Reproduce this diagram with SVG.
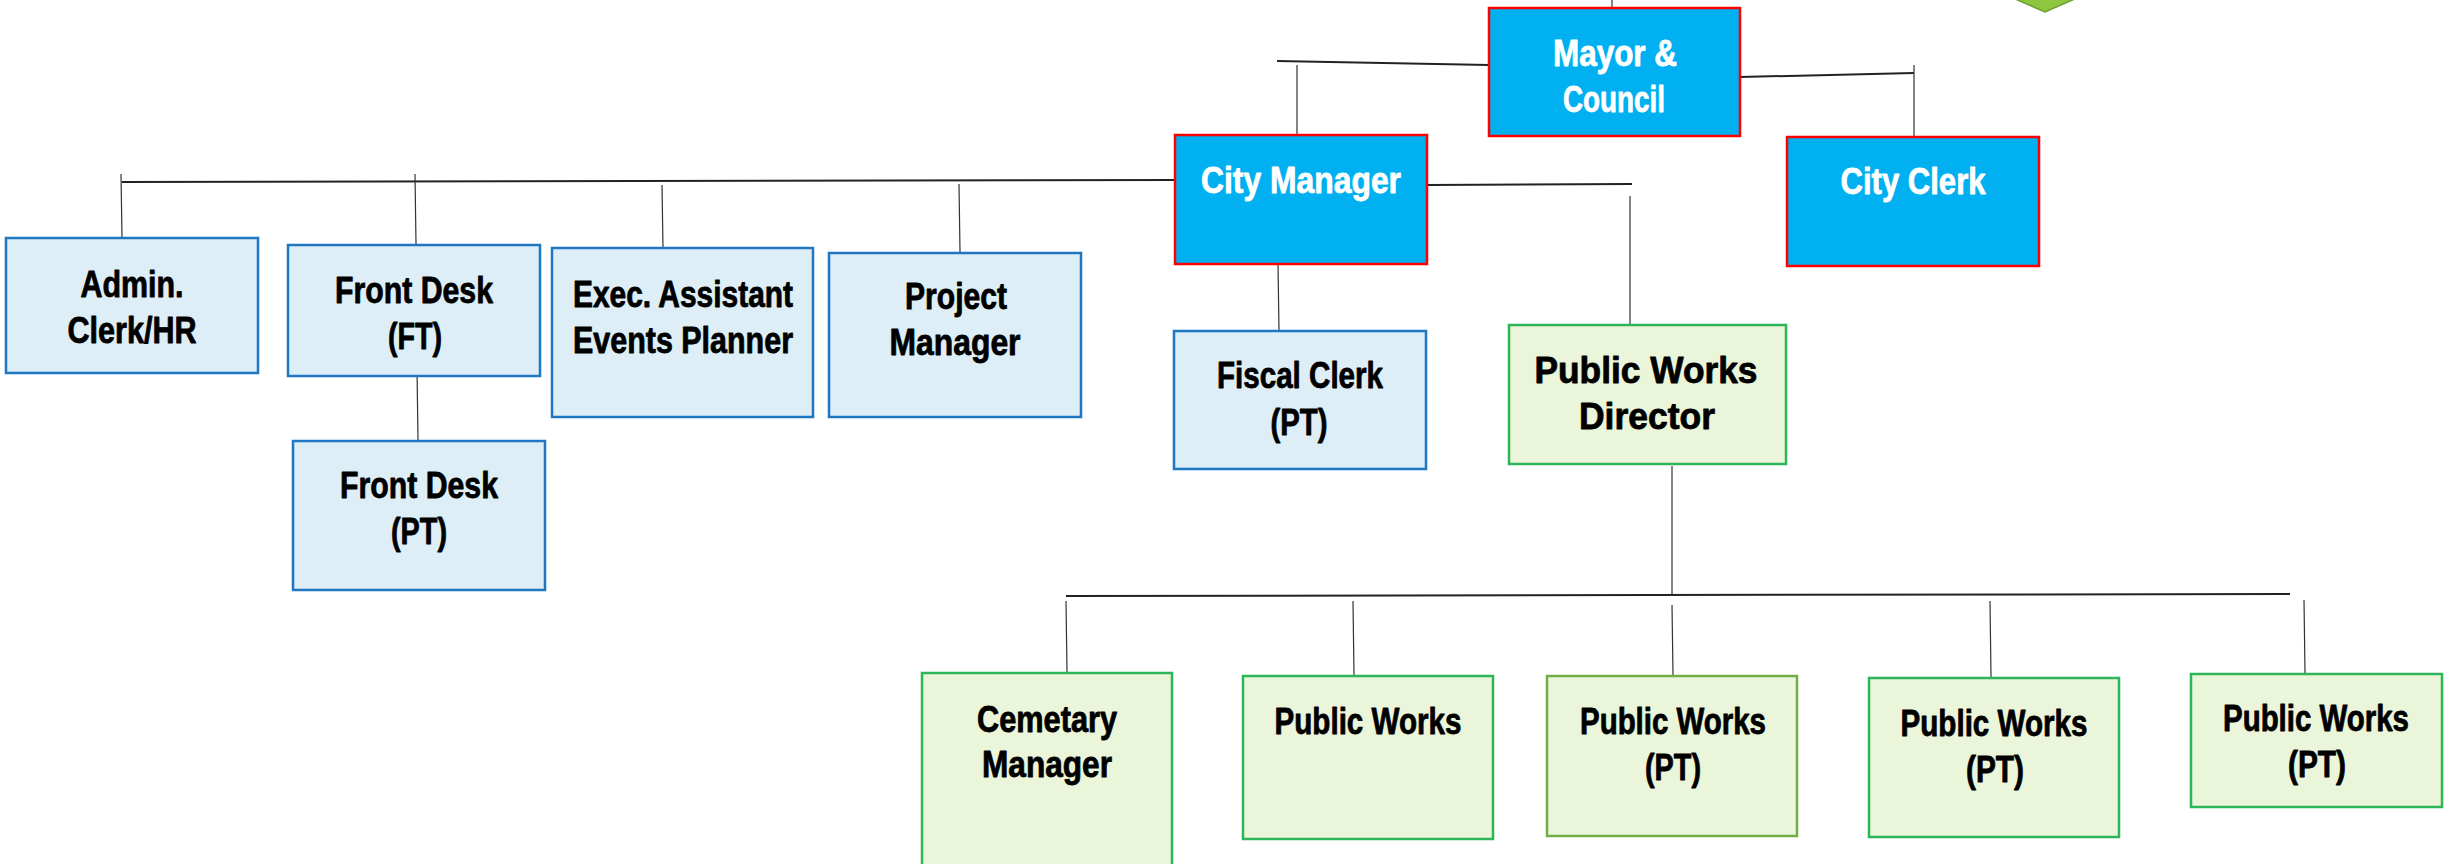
<svg xmlns="http://www.w3.org/2000/svg" width="2446" height="864" viewBox="0 0 2446 864">
  <style>
    .lbl { font-family: "Liberation Sans", Arial, sans-serif; font-weight: bold; font-size: 36px; text-anchor: middle; stroke-width: 0.8; stroke-linejoin: round; }
    .dark { fill: #000000; stroke: #000000; }
    .light { fill: #FFFFFF; stroke: #FFFFFF; }
    .exec { fill: #00B0F0; stroke: #FF0000; stroke-width: 2.5; }
    .staff { fill: #DDEEF6; stroke: #1F77C4; stroke-width: 2.5; }
    .pw { fill: #EBF5D9; stroke: #2DB55A; stroke-width: 2.5; }
    .pw-alt { fill: #EBF5D9; stroke: #72AD47; stroke-width: 2.5; }
    .bus { stroke: #222222; stroke-width: 2; fill: none; }
    .drop { stroke: #333333; stroke-width: 1.2; fill: none; }
  </style>

  <rect width="2446" height="864" fill="#FFFFFF"/>

  <!-- marker shape at the top edge -->
  <polygon points="2013,-2 2077,-2 2045,12" fill="#8DC63F" stroke="#6E9E2E" stroke-width="1.5"/>

  <g id="connectors">
    <line class="drop" x1="1612" y1="0" x2="1612" y2="8"/>
    <!-- Mayor & Council to City Manager -->
    <line class="bus" x1="1489" y1="65" x2="1277" y2="61"/>
    <line class="drop" x1="1297" y1="65" x2="1297" y2="134"/>
    <!-- Mayor & Council to City Clerk -->
    <line class="bus" x1="1740" y1="77" x2="1914" y2="73"/>
    <line class="drop" x1="1914" y1="65" x2="1914" y2="136"/>
    <!-- City Manager to staff row -->
    <line class="bus" x1="122" y1="182" x2="1174" y2="180"/>
    <line class="drop" x1="121" y1="174" x2="122" y2="238"/>
    <line class="drop" x1="415" y1="174" x2="416" y2="244"/>
    <line class="drop" x1="662" y1="185" x2="663" y2="249"/>
    <line class="drop" x1="959" y1="184" x2="960" y2="252"/>
    <line class="drop" x1="417" y1="369" x2="418" y2="440"/>
    <!-- City Manager to Fiscal Clerk -->
    <line class="drop" x1="1278" y1="264" x2="1279" y2="331"/>
    <!-- City Manager to Public Works Director -->
    <line class="bus" x1="1427" y1="185" x2="1632" y2="184"/>
    <line class="drop" x1="1630" y1="196" x2="1630" y2="325"/>
    <!-- Public Works Director to crews -->
    <line class="drop" x1="1672" y1="466" x2="1672" y2="596"/>
    <line class="bus" x1="1066" y1="596" x2="2290" y2="594"/>
    <line class="drop" x1="1066" y1="601" x2="1067" y2="672"/>
    <line class="drop" x1="1353" y1="601" x2="1354" y2="675"/>
    <line class="drop" x1="1672" y1="605" x2="1673" y2="675"/>
    <line class="drop" x1="1990" y1="601" x2="1991" y2="677"/>
    <line class="drop" x1="2304" y1="600" x2="2305" y2="673"/>
  </g>

  <g id="mayor-council">
    <rect class="exec" x="1489" y="8" width="251" height="128"/>
    <text class="lbl light" x="1615" y="66" textLength="124" lengthAdjust="spacingAndGlyphs">Mayor &amp;</text>
    <text class="lbl light" x="1614" y="112" textLength="102" lengthAdjust="spacingAndGlyphs">Council</text>
  </g>

  <g id="city-manager">
    <rect class="exec" x="1175" y="135" width="252" height="129"/>
    <text class="lbl light" x="1301" y="193" textLength="200" lengthAdjust="spacingAndGlyphs">City Manager</text>
  </g>

  <g id="city-clerk">
    <rect class="exec" x="1787" y="137" width="252" height="129"/>
    <text class="lbl light" x="1913" y="194" textLength="145" lengthAdjust="spacingAndGlyphs">City Clerk</text>
  </g>

  <g id="admin-clerk">
    <rect class="staff" x="6" y="238" width="252" height="135"/>
    <text class="lbl dark" x="132" y="297" textLength="103" lengthAdjust="spacingAndGlyphs">Admin.</text>
    <text class="lbl dark" x="132" y="343" textLength="129" lengthAdjust="spacingAndGlyphs">Clerk/HR</text>
  </g>

  <g id="front-desk-ft">
    <rect class="staff" x="288" y="245" width="252" height="131"/>
    <text class="lbl dark" x="414" y="303" textLength="158" lengthAdjust="spacingAndGlyphs">Front Desk</text>
    <text class="lbl dark" x="415" y="349" textLength="54" lengthAdjust="spacingAndGlyphs">(FT)</text>
  </g>

  <g id="front-desk-pt">
    <rect class="staff" x="293" y="441" width="252" height="149"/>
    <text class="lbl dark" x="419" y="498" textLength="158" lengthAdjust="spacingAndGlyphs">Front Desk</text>
    <text class="lbl dark" x="419" y="544" textLength="56" lengthAdjust="spacingAndGlyphs">(PT)</text>
  </g>

  <g id="exec-assistant">
    <rect class="staff" x="552" y="248" width="261" height="169"/>
    <text class="lbl dark" x="683" y="307" textLength="220" lengthAdjust="spacingAndGlyphs">Exec. Assistant</text>
    <text class="lbl dark" x="683" y="353" textLength="220" lengthAdjust="spacingAndGlyphs">Events Planner</text>
  </g>

  <g id="project-manager">
    <rect class="staff" x="829" y="253" width="252" height="164"/>
    <text class="lbl dark" x="956" y="309" textLength="102" lengthAdjust="spacingAndGlyphs">Project</text>
    <text class="lbl dark" x="955" y="355" textLength="131" lengthAdjust="spacingAndGlyphs">Manager</text>
  </g>

  <g id="fiscal-clerk">
    <rect class="staff" x="1174" y="331" width="252" height="138"/>
    <text class="lbl dark" x="1300" y="388" textLength="166" lengthAdjust="spacingAndGlyphs">Fiscal Clerk</text>
    <text class="lbl dark" x="1299" y="435" textLength="57" lengthAdjust="spacingAndGlyphs">(PT)</text>
  </g>

  <g id="public-works-director">
    <rect class="pw" x="1509" y="325" width="277" height="139"/>
    <text class="lbl dark" x="1646" y="383" textLength="223" lengthAdjust="spacingAndGlyphs">Public Works</text>
    <text class="lbl dark" x="1647" y="429" textLength="136" lengthAdjust="spacingAndGlyphs">Director</text>
  </g>

  <g id="cemetary-manager">
    <rect class="pw" x="922" y="673" width="250" height="200"/>
    <text class="lbl dark" x="1047" y="732" textLength="140" lengthAdjust="spacingAndGlyphs">Cemetary</text>
    <text class="lbl dark" x="1047" y="777" textLength="130" lengthAdjust="spacingAndGlyphs">Manager</text>
  </g>

  <g id="public-works-1">
    <rect class="pw" x="1243" y="676" width="250" height="163"/>
    <text class="lbl dark" x="1368" y="734" textLength="187" lengthAdjust="spacingAndGlyphs">Public Works</text>
  </g>

  <g id="public-works-pt-1">
    <rect class="pw-alt" x="1547" y="676" width="250" height="160"/>
    <text class="lbl dark" x="1673" y="734" textLength="186" lengthAdjust="spacingAndGlyphs">Public Works</text>
    <text class="lbl dark" x="1673" y="780" textLength="56" lengthAdjust="spacingAndGlyphs">(PT)</text>
  </g>

  <g id="public-works-pt-2">
    <rect class="pw" x="1869" y="678" width="250" height="159"/>
    <text class="lbl dark" x="1994" y="736" textLength="187" lengthAdjust="spacingAndGlyphs">Public Works</text>
    <text class="lbl dark" x="1995" y="782" textLength="58" lengthAdjust="spacingAndGlyphs">(PT)</text>
  </g>

  <g id="public-works-pt-3">
    <rect class="pw" x="2191" y="674" width="251" height="133"/>
    <text class="lbl dark" x="2316" y="731" textLength="186" lengthAdjust="spacingAndGlyphs">Public Works</text>
    <text class="lbl dark" x="2317" y="777" textLength="58" lengthAdjust="spacingAndGlyphs">(PT)</text>
  </g>
</svg>
